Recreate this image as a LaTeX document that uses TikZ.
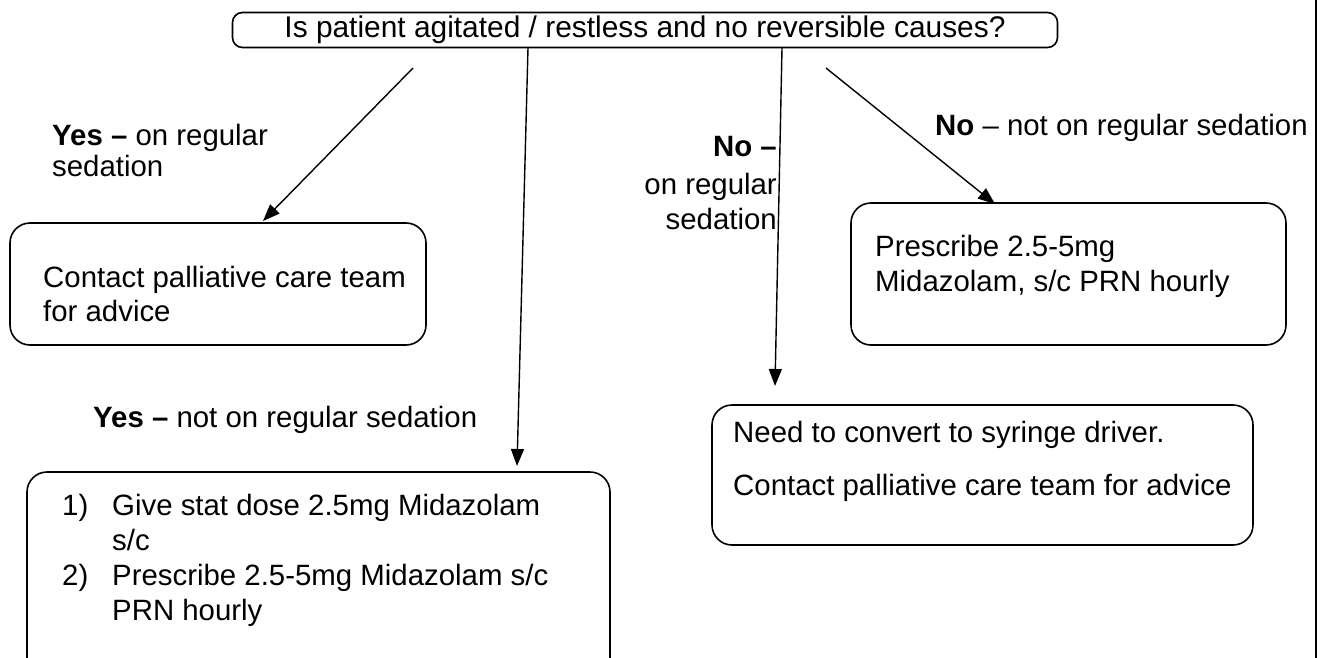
\documentclass[tikz,border=0pt]{standalone}
\usepackage{fontspec}
\setmainfont{Liberation Sans}
\usetikzlibrary{arrows.meta}
\begin{document}
\begin{tikzpicture}[x=1bp,y=-1bp,
  boxshape/.style={draw, line width=1.6bp, rounded corners=20bp},
  arr/.style={line width=1.4bp, -{Triangle[length=17bp,width=13bp]}},
  txt/.style={inner sep=0pt, anchor=base west, font=\fontsize{29.5}{35}\selectfont},
  rtxt/.style={inner sep=0pt, anchor=base east, font=\fontsize{29.5}{35}\selectfont}]
\useasboundingbox (0,0) rectangle (1322,658);
\fill[white] (0,0) rectangle (1322,658);
\begin{scope}
\clip (0,0) rectangle (1322,658);
% boxes
\node[boxshape, rounded corners=10bp, minimum width=825bp, minimum height=35bp, inner sep=0pt,
      font=\fontsize{30}{35}\selectfont] (top) at (645,30) {Is patient agitated / restless and no reversible causes?};
\draw[boxshape] (10,223) rectangle (426,345);
\node[inner sep=0pt, minimum width=416bp, minimum height=122bp] (boxA) at (218,284) {};
\draw[boxshape] (27,472) rectangle (610,720);
\node[inner sep=0pt, minimum width=583bp, minimum height=248bp] (boxB) at (318.5,596) {};
\draw[boxshape] (851,203) rectangle (1286,345);
\node[inner sep=0pt, minimum width=435bp, minimum height=142bp] (boxC) at (1068.5,274) {};
\draw[boxshape] (712,405) rectangle (1253,545);
\node[inner sep=0pt, minimum width=541bp, minimum height=140bp] (boxD) at (982.5,475) {};
\end{scope}
% right edge line
\coordinate (edgeT) at (1316,0);
\coordinate (edgeB) at (1316,658);
\draw[line width=1.6bp] (edgeT) -- (edgeB);
% texts
\node[txt] (ta1) at (43,287) {Contact palliative care team};
\node[txt] (ta2) at (43,321) {for advice};
\node[txt] (tb1) at (62,515) {1)};
\node[txt] (tb1b) at (112,515) {Give stat dose 2.5mg Midazolam};
\node[txt] (tb2) at (112,550) {s/c};
\node[txt] (tb3) at (62,585) {2)};
\node[txt] (tb3b) at (112,585) {Prescribe 2.5-5mg Midazolam s/c};
\node[txt] (tb4) at (112,620) {PRN hourly};
\node[txt] (tc1) at (875,256) {Prescribe 2.5-5mg};
\node[txt] (tc2) at (875,291) {Midazolam, s/c PRN hourly};
\node[txt] (td1) at (733,442) {Need to convert to syringe driver.};
\node[txt] (td2) at (733,495) {Contact palliative care team for advice};
% labels
\node[txt] (l1a) at (52,145) {\textbf{Yes –} on regular};
\node[txt] (l1b) at (52,176) {sedation};
\node[txt] (l2) at (93,427) {\textbf{Yes –} not on regular sedation};
\node[rtxt] (l3a) at (777,156) {\textbf{No –}};
\node[rtxt] (l3b) at (777,194) {on regular};
\node[rtxt] (l3c) at (777,229) {sedation};
\node[txt] (l4) at (935,135) {\textbf{No} – not on regular sedation};
% connectors
\coordinate (s1) at (413,68);
\coordinate (e1) at (263,221);
\coordinate (s2) at (528,48);
\coordinate (e2) at (517,466);
\coordinate (s3) at (782,48);
\coordinate (e3) at (775,386);
\coordinate (s4) at (826,68);
\coordinate (e4) at (995,204);
\draw[arr] (s1) -- (e1);
\draw[arr] (s2) -- (e2);
\draw[arr] (s3) -- (e3);
\draw[arr] (s4) -- (e4);
\end{tikzpicture}
\end{document}
